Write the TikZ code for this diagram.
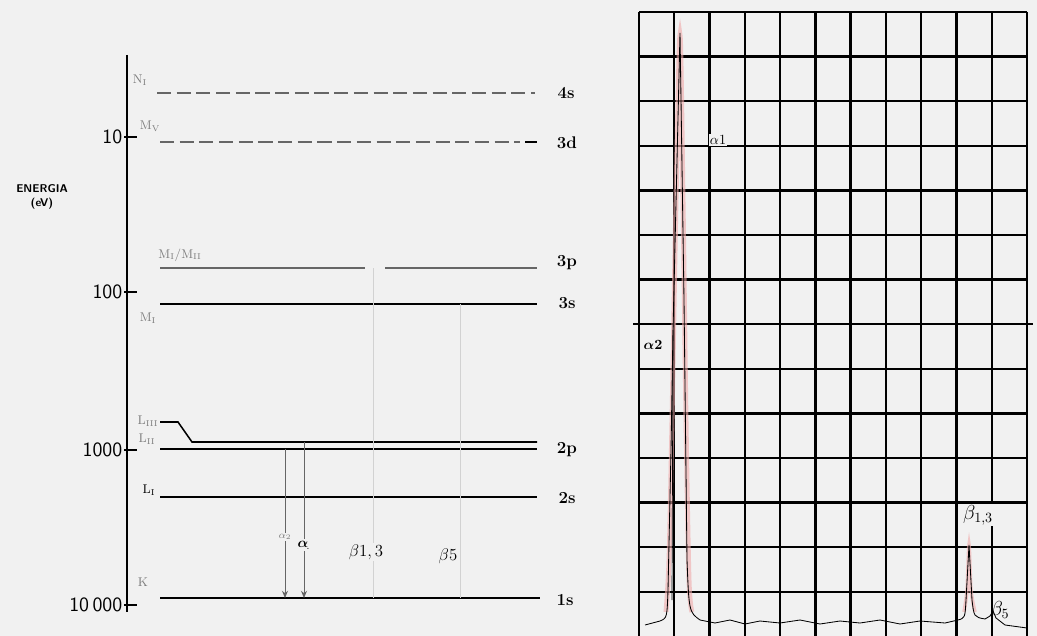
\documentclass[tikz,border=0pt]{standalone}
\usepackage{amsmath,amssymb}
\usepackage{tikz}
\usetikzlibrary{arrows.meta}
\usepackage{xcolor}
\definecolor{paper}{RGB}{241,241,241}
\definecolor{lvlgray}{RGB}{125,125,125}
\definecolor{peakred}{RGB}{240,170,170}

\begin{document}
\begin{tikzpicture}[x=0.025cm,y=-0.025cm,>={Stealth[length=1.8mm,width=1.5mm]},
  level/.style={line width=1.1pt},
  dlevel/.style={line width=1.2pt,gray!80!black,dash pattern=on 10pt off 4pt},
  shell/.style={font=\bfseries\large},
  sub/.style={text=lvlgray,font=\small},
  trans/.style={gray!80!black,line width=0.6pt},
  faint/.style={gray!35,line width=0.6pt},
  grid/.style={line width=1.7pt}]
\fill[paper] (0,0) rectangle (1037,636);
\useasboundingbox (0,0) rectangle (1037,636);
\draw[line width=1.2pt] (127,55) -- (127,612);
\foreach \y/\t in {137/10,292/100,450/1000,605/10\,000} {
  \draw[line width=1.2pt] (124,\y) -- (137,\y);
  \node[anchor=east,font=\sffamily\Large,inner sep=1pt] at (124,\y) {\t};
}
\node[font=\sffamily\bfseries\footnotesize,align=center,inner sep=0pt] (en) at (42,197) {ENERGIA\\(eV)};
\node[sub] (n1) at (140,80) {N$_\mathrm{I}$};
\node[sub] (m5) at (150,126) {M$_\mathrm{V}$};
\node[sub] (m23) at (180,255) {M$_\mathrm{I}$/M$_\mathrm{II}$};
\node[sub] (m1) at (148,318) {M$_\mathrm{I}$};
\node[sub] (l3) at (148,421) {L$_\mathrm{III}$};
\node[sub] (l2) at (147,439) {L$_\mathrm{II}$};
\node[sub,text=black] (l1) at (149,490) {L$_\mathrm{I}$};
\node[sub] (k) at (143,582) {K};
\node[shell] (s4) at (566,93) {4s};
\node[shell] (d3) at (567,143) {3d};
\node[shell] (p3) at (567,263) {3p};
\node[shell] (s3) at (567,303) {3s};
\node[shell] (p2) at (567,450) {2p};
\node[shell] (s2) at (567,498) {2s};
\node[shell] (s1) at (565,600) {1s};
\draw[dlevel] (157,93) -- (535,93);
\draw[dlevel] (160,142) -- (520,142);
\draw[level] (525,142) -- (537,142);
\draw[level,gray!80!black] (160,268) -- (365,268);
\draw[level,gray!80!black] (385,268) -- (537,268);
\draw[level] (160,304) -- (537,304);
\draw[level] (160,422) -- (178,422) -- (192,442) -- (537,442);
\draw[level] (160,449) -- (537,449);
\draw[level] (160,497) -- (537,497);
\draw[level] (160,598) -- (540,598);
\coordinate (a2top) at (285,449);
\coordinate (a2bot) at (285,598);
\coordinate (a1top) at (304,442);
\coordinate (a1bot) at (304,598);
\coordinate (b13top) at (373,268);
\coordinate (b13bot) at (373,598);
\coordinate (b5top) at (460,304);
\coordinate (b5bot) at (460,598);
\draw[faint] (b13top) -- (b13bot);
\draw[faint] (b5top) -- (b5bot);
\draw[trans,->] (a2top) -- (a2bot);
\draw[trans,->] (a1top) -- (a1bot);
\node[sub,fill=paper,inner sep=1pt,font=\scriptsize] (la2) at (285,537) {$\alpha_2$};
\node[fill=paper,inner sep=1pt] (la1) at (304,545) {$\boldsymbol{\alpha}_{\!.}$};
\node[fill=paper,inner sep=1pt,font=\large] (lb13) at (366,552) {$\beta1,3$};
\node[fill=paper,inner sep=1pt,font=\large] (lb5) at (448,556) {$\beta5$};
\foreach \i in {0,...,11}
  \draw[grid] ({639+35.27*\i},12) -- ({639+35.27*\i},636);
\foreach \j in {0,...,13}
  \draw[grid] (639,{12+44.6*\j}) -- (1027,{12+44.6*\j});
\draw[grid] (633,324.2) -- (1033,324.2);
\draw[peakred,line width=3.5pt,opacity=0.6] plot[smooth] coordinates
  {(666,612) (669,560) (672,420) (676,200) (680,35) (683,200) (686,420) (689,580) (692,612)};
\draw[peakred,line width=2.5pt,opacity=0.6] plot[smooth] coordinates
  {(964,612) (967,590) (969,545) (971,590) (975,612)};
\draw[line width=0.6pt] (645,625) -- (660,621) .. controls (667,618) .. (668,590)
  -- (671,450) -- (673,330) -- (680,33) -- (684,300) -- (687,560)
  .. controls (689,612) .. (700,620) -- (715,623) -- (730,620) -- (745,624)
  -- (760,621) -- (780,623) -- (800,620) -- (820,624) -- (840,621) -- (860,623)
  -- (880,620) -- (900,624) -- (920,621) -- (945,623) -- (958,620)
  .. controls (965,618) .. (966,600) -- (969,545) -- (972,600)
  .. controls (974,617) .. (985,619) -- (990,616) -- (993,611) -- (996,618)
  -- (1005,625) -- (1027,628);
\draw[line width=0.5pt] (673,330) -- (672,600);
\node[fill=paper,inner sep=1pt] (pa1) at (718,140) {$\alpha$1};
\node[fill=paper,inner sep=1pt,font=\bfseries] (pa2) at (653,345) {$\boldsymbol{\alpha}$2};
\node[fill=paper,inner sep=1pt,font=\Large] (pb13) at (978,515) {$\beta_{1,3}$};
\node[font=\Large] (pb5) at (1000,610) {$\beta_5$};
\end{tikzpicture}
\end{document}
